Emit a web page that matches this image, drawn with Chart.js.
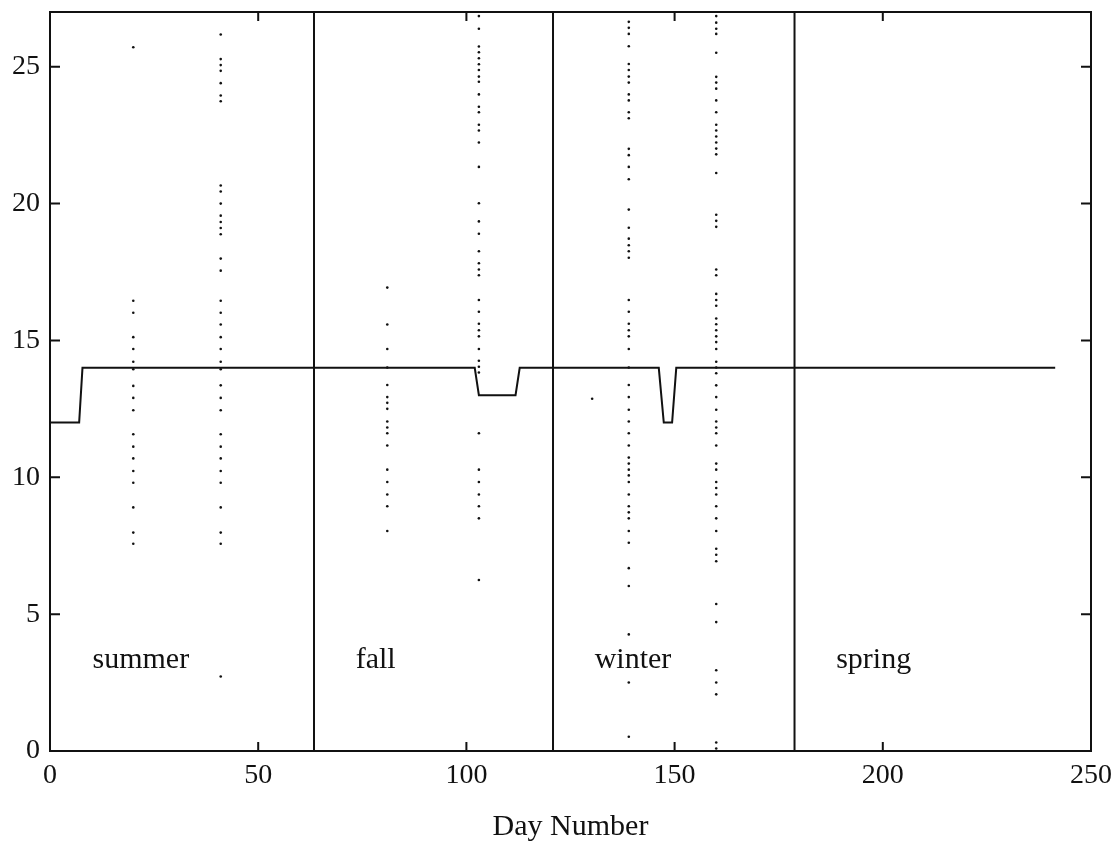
<!DOCTYPE html>
<html>
<head>
<meta charset="utf-8">
<script src="https://cdn.jsdelivr.net/npm/chart.js@4/dist/chart.umd.min.js"></script>
<style>
  body { margin: 0; background: #fff; }
  #wrap { width: 1119px; height: 854px; }
</style>
</head>
<body>
<div id="wrap"><canvas id="dayChart"></canvas></div>
<script>
// axis ticks
const xTicks = [0, 50, 100, 150, 200, 250];
const yTicks = [0, 5, 10, 15, 20, 25];

// solid line (day, value)
const lineDays = [0, 7, 7.8, 102, 103, 111.8, 112.8, 146.2, 147.4, 149.4, 150.4, 241.4];
const lineVals = [12, 12, 14, 14, 13, 13, 14, 14, 12, 12, 14, 14];

// season boundaries and labels
const seasonBounds = [63.4, 120.8, 178.8];
const seasons = ['summer', 'fall', 'winter', 'spring'];
const seasonLabelDays = [10.2, 73.4, 130.8, 188.8];
const seasonLabelVal = 3.05;

// dotted observation columns
const obsDays = [20, 41, 81, 103, 139, 160];
const obs20 = [25.71, 16.45, 16.01, 15.12, 14.69, 14.22, 13.95, 13.34, 12.90, 12.45, 11.57, 11.12, 10.69, 10.23, 9.80, 8.90, 7.98, 7.57];
const obs41 = [26.18, 25.28, 25.06, 24.85, 24.40, 23.95, 23.74, 20.66, 20.44, 20.00, 19.56, 19.33, 19.11, 18.88, 17.99, 17.55,
  16.45, 16.01, 15.58, 15.12, 14.69, 14.22, 13.95, 13.36, 12.90, 12.45, 11.57, 11.12, 10.69, 10.23, 9.80, 8.90, 7.98, 7.57, 2.72];
const obs81 = [16.93, 15.58, 14.69, 14.01, 13.37, 12.93, 12.72, 12.50, 12.04, 11.82, 11.61, 11.16, 10.28, 9.83, 9.37, 8.94, 8.04];
const obs103 = [26.85, 26.39, 25.74, 25.53, 25.31, 25.09, 24.88, 24.64, 24.45, 23.99, 23.54, 23.34, 22.88, 22.67, 22.23, 21.34,
  20.01, 19.35, 18.90, 18.26, 17.82, 17.59, 17.38, 16.48, 16.05, 15.61, 15.37, 15.15, 14.69, 14.26, 14.04, 13.83, 11.61,
  10.28, 9.83, 9.37, 8.94, 8.50, 6.25];
const obs139 = [26.64, 26.42, 26.20, 25.75, 25.10, 24.88, 24.64, 24.42, 23.99, 23.77, 23.34, 23.12, 22.00, 21.77, 21.34, 20.89,
  19.78, 19.12, 18.72, 18.48, 18.26, 18.02, 16.48, 16.05, 15.61, 15.37, 15.15, 14.69, 14.01, 13.37, 12.93, 12.47, 12.04,
  11.61, 11.16, 10.72, 10.50, 10.28, 10.07, 9.83, 9.37, 8.94, 8.72, 8.50, 8.04, 7.61, 6.68, 6.03, 4.26, 2.50, 0.52];
const obs160 = [26.85, 26.61, 26.39, 26.20, 25.51, 24.63, 24.42, 24.20, 23.77, 23.34, 22.88, 22.67, 22.45, 22.23, 22.01, 21.80,
  21.12, 19.59, 19.37, 19.15, 17.59, 17.38, 16.70, 16.48, 16.27, 15.80, 15.59, 15.37, 15.15, 14.94, 14.69, 14.22, 14.01,
  13.80, 13.36, 12.93, 12.47, 12.04, 11.82, 11.61, 11.16, 10.50, 10.28, 9.83, 9.61, 9.37, 8.94, 8.50, 8.04, 7.39, 7.17,
  6.93, 5.37, 4.71, 2.95, 2.50, 2.07, 0.31, 0.09];
const obsCols = [obs20, obs41, obs81, obs103, obs139, obs160];
// single stray point
const strayDay = [130.2];
const strayVal = [12.87];

const ink = '#111';
const serif = '"Liberation Serif", "DejaVu Serif", serif';

const dots = [];
obsDays.forEach((d, i) => obsCols[i].forEach(v => dots.push({ x: d, y: v })));
strayDay.forEach((d, i) => dots.push({ x: d, y: strayVal[i] }));

const datasets = [{
  data: lineDays.map((d, i) => ({ x: d, y: lineVals[i] })),
  showLine: true,
  borderColor: ink,
  borderWidth: 2,
  pointRadius: 0
}];
seasonBounds.forEach(d => {
  datasets.push({
    data: [{ x: d, y: 0 }, { x: d, y: 27 }],
    showLine: true,
    borderColor: ink,
    borderWidth: 2,
    pointRadius: 0
  });
});
datasets.push({
  data: dots,
  pointRadius: 1.3,
  pointBackgroundColor: ink,
  pointBorderWidth: 0
});

// frame, inward ticks and season names
const framePlugin = {
  id: 'frame',
  afterDatasetsDraw(chart) {
    const { ctx, chartArea: a, scales: { x, y } } = chart;
    ctx.save();
    ctx.strokeStyle = ink;
    ctx.lineWidth = 2;
    ctx.strokeRect(a.left, a.top, a.right - a.left, a.bottom - a.top);
    ctx.beginPath();
    xTicks.forEach(v => {
      const px = x.getPixelForValue(v);
      ctx.moveTo(px, a.bottom); ctx.lineTo(px, a.bottom - 9);
      ctx.moveTo(px, a.top); ctx.lineTo(px, a.top + 9);
    });
    yTicks.forEach(v => {
      const py = y.getPixelForValue(v);
      ctx.moveTo(a.left, py); ctx.lineTo(a.left + 10, py);
      ctx.moveTo(a.right, py); ctx.lineTo(a.right - 10, py);
    });
    ctx.stroke();
    ctx.fillStyle = ink;
    ctx.font = '30px ' + serif;
    ctx.textBaseline = 'alphabetic';
    seasons.forEach((s, i) => {
      ctx.fillText(s, x.getPixelForValue(seasonLabelDays[i]), y.getPixelForValue(seasonLabelVal));
    });
    ctx.restore();
  }
};

new Chart(document.getElementById('dayChart'), {
  type: 'scatter',
  data: { datasets: datasets },
  options: {
    responsive: true,
    maintainAspectRatio: false,
    animation: false,
    layout: { padding: { top: 12, right: 28, left: 0, bottom: 0 } },
    plugins: { legend: { display: false }, tooltip: { enabled: false } },
    scales: {
      x: {
        type: 'linear',
        min: 0,
        max: 250,
        afterBuildTicks: s => { s.ticks = xTicks.map(v => ({ value: v })); },
        afterFit: s => { s.height = 103; s.paddingLeft = 0; s.paddingRight = 0; },
        grid: { display: false, drawTicks: false },
        border: { display: false },
        ticks: { padding: 8, color: ink, font: { family: serif, size: 28 } },
        title: {
          display: true,
          text: 'Day Number',
          color: ink,
          font: { family: serif, size: 30 },
          padding: { top: 0, bottom: 9 }
        }
      },
      y: {
        type: 'linear',
        min: 0,
        max: 27,
        afterBuildTicks: s => { s.ticks = yTicks.map(v => ({ value: v })); },
        afterFit: s => { s.width = 50; s.paddingTop = 0; s.paddingBottom = 0; },
        grid: { display: false, drawTicks: false },
        border: { display: false },
        ticks: { padding: 10, color: ink, font: { family: serif, size: 28 } }
      }
    }
  },
  plugins: [framePlugin]
});
</script>
</body>
</html>
